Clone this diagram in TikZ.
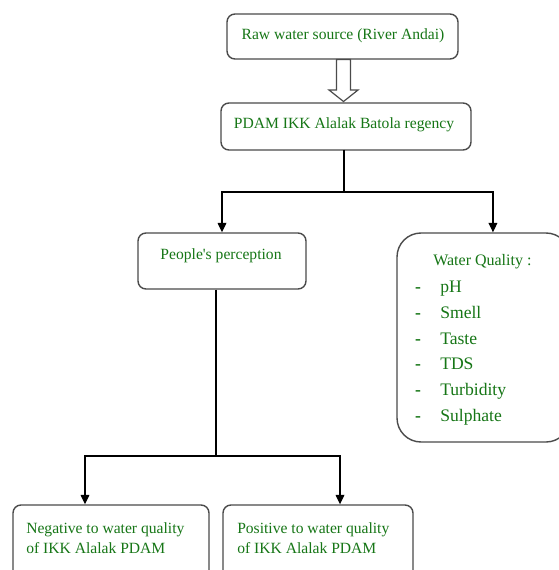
\documentclass[tikz,border=0pt]{standalone}
\usepackage{fontspec}
\setmainfont{Liberation Serif}
\usetikzlibrary{arrows.meta,calc}
\definecolor{txtgreen}{RGB}{22,118,22}
\definecolor{boxgray}{RGB}{75,75,75}
\newcommand{\sq}{\XeTeXglyph\XeTeXglyphindex "quotesingle"\relax}
\tikzset{
  box/.style={draw=boxgray, line width=1.05pt, rounded corners=6pt, fill=white, inner sep=0pt},
  txt/.style={text=txtgreen, font=\fontsize{11.7}{14}\selectfont, inner sep=0pt},
  itm/.style={text=txtgreen, font=\fontsize{13.2}{15}\selectfont, inner sep=0pt, anchor=base west},
  conn/.style={draw=black, line width=0.9pt},
  arr/.style={conn, -{Triangle[length=7pt,width=6.5pt]}},
}
\begin{document}
\begin{tikzpicture}[x=0.75pt,y=-0.75pt]
\useasboundingbox (0,0) rectangle (559,570);
\clip (0,0) rectangle (559,570);
\fill[white] (0,0) rectangle (559,570);
% boxes
\node[box, minimum width=173.25pt, minimum height=33.75pt] (raw) at (342.5,36.5) {};
\node[txt] (rawt) at (343,36) {Raw water source (River Andai)};
\node[box, minimum width=187.5pt, minimum height=35.25pt] (pdam) at (346,126.5) {};
\node[txt] (pdamt) at (344,125) {PDAM IKK Alalak Batola regency};
\node[box, minimum width=126pt, minimum height=42pt] (pp) at (222,261) {};
\node[txt] (ppt) at (221,256) {People\sq s perception};
\node[box, rounded corners=18pt, minimum width=129.75pt, minimum height=156.75pt] (wq) at (483.5,337.5) {};
\node[box, minimum width=147pt, minimum height=67.5pt] (neg) at (111,550) {};
\node[box, minimum width=142.5pt, minimum height=67.5pt] (pos) at (318,550) {};
\node[txt, anchor=west, align=left] (negt) at (26,538) {Negative to water quality\\[1pt]of IKK Alalak PDAM};
\node[txt, anchor=west, align=left] (post) at (237,538) {Positive to water quality\\[1pt]of IKK Alalak PDAM};
% water quality list
\node[txt, anchor=west, font=\fontsize{12}{14}\selectfont] (wqh) at (433,262) {Water Quality :};
\foreach \t [count=\i] in {pH,Smell,Taste,TDS,Turbidity,Sulphate}{
  \node[itm] (wq\i) at (440,{267+25.7*\i}) {\t};
  \node[itm, anchor=base] (wqd\i) at (418,{267+25.7*\i}) {\bfseries -};
}
% hollow arrow
\coordinate (ha) at (336.5,59.5);
\coordinate (hb) at (350.5,59.5);
\coordinate (tip) at (343.5,101.5);
\draw[boxgray, line width=0.9pt, fill=white]
  (ha) -- (hb) -- (350.5,90) -- (358,90) -- (tip) -- (329,90) -- (336.5,90) -- cycle;
% connectors
\coordinate (j1) at (344,192);
\draw[conn] (344,150) -- (j1);
\draw[arr] (j1) -| (pp.north);
\draw[arr] (j1) -| ([xshift=7.1pt]wq.north);
\coordinate (j2) at (216,456);
\draw[conn] ([xshift=-4.5pt]pp.south) -- (j2);
\draw[arr] (j2) -| ([xshift=-19.5pt]neg.north);
\draw[arr] (j2) -| ([xshift=16.5pt]pos.north);
\end{tikzpicture}
\end{document}
